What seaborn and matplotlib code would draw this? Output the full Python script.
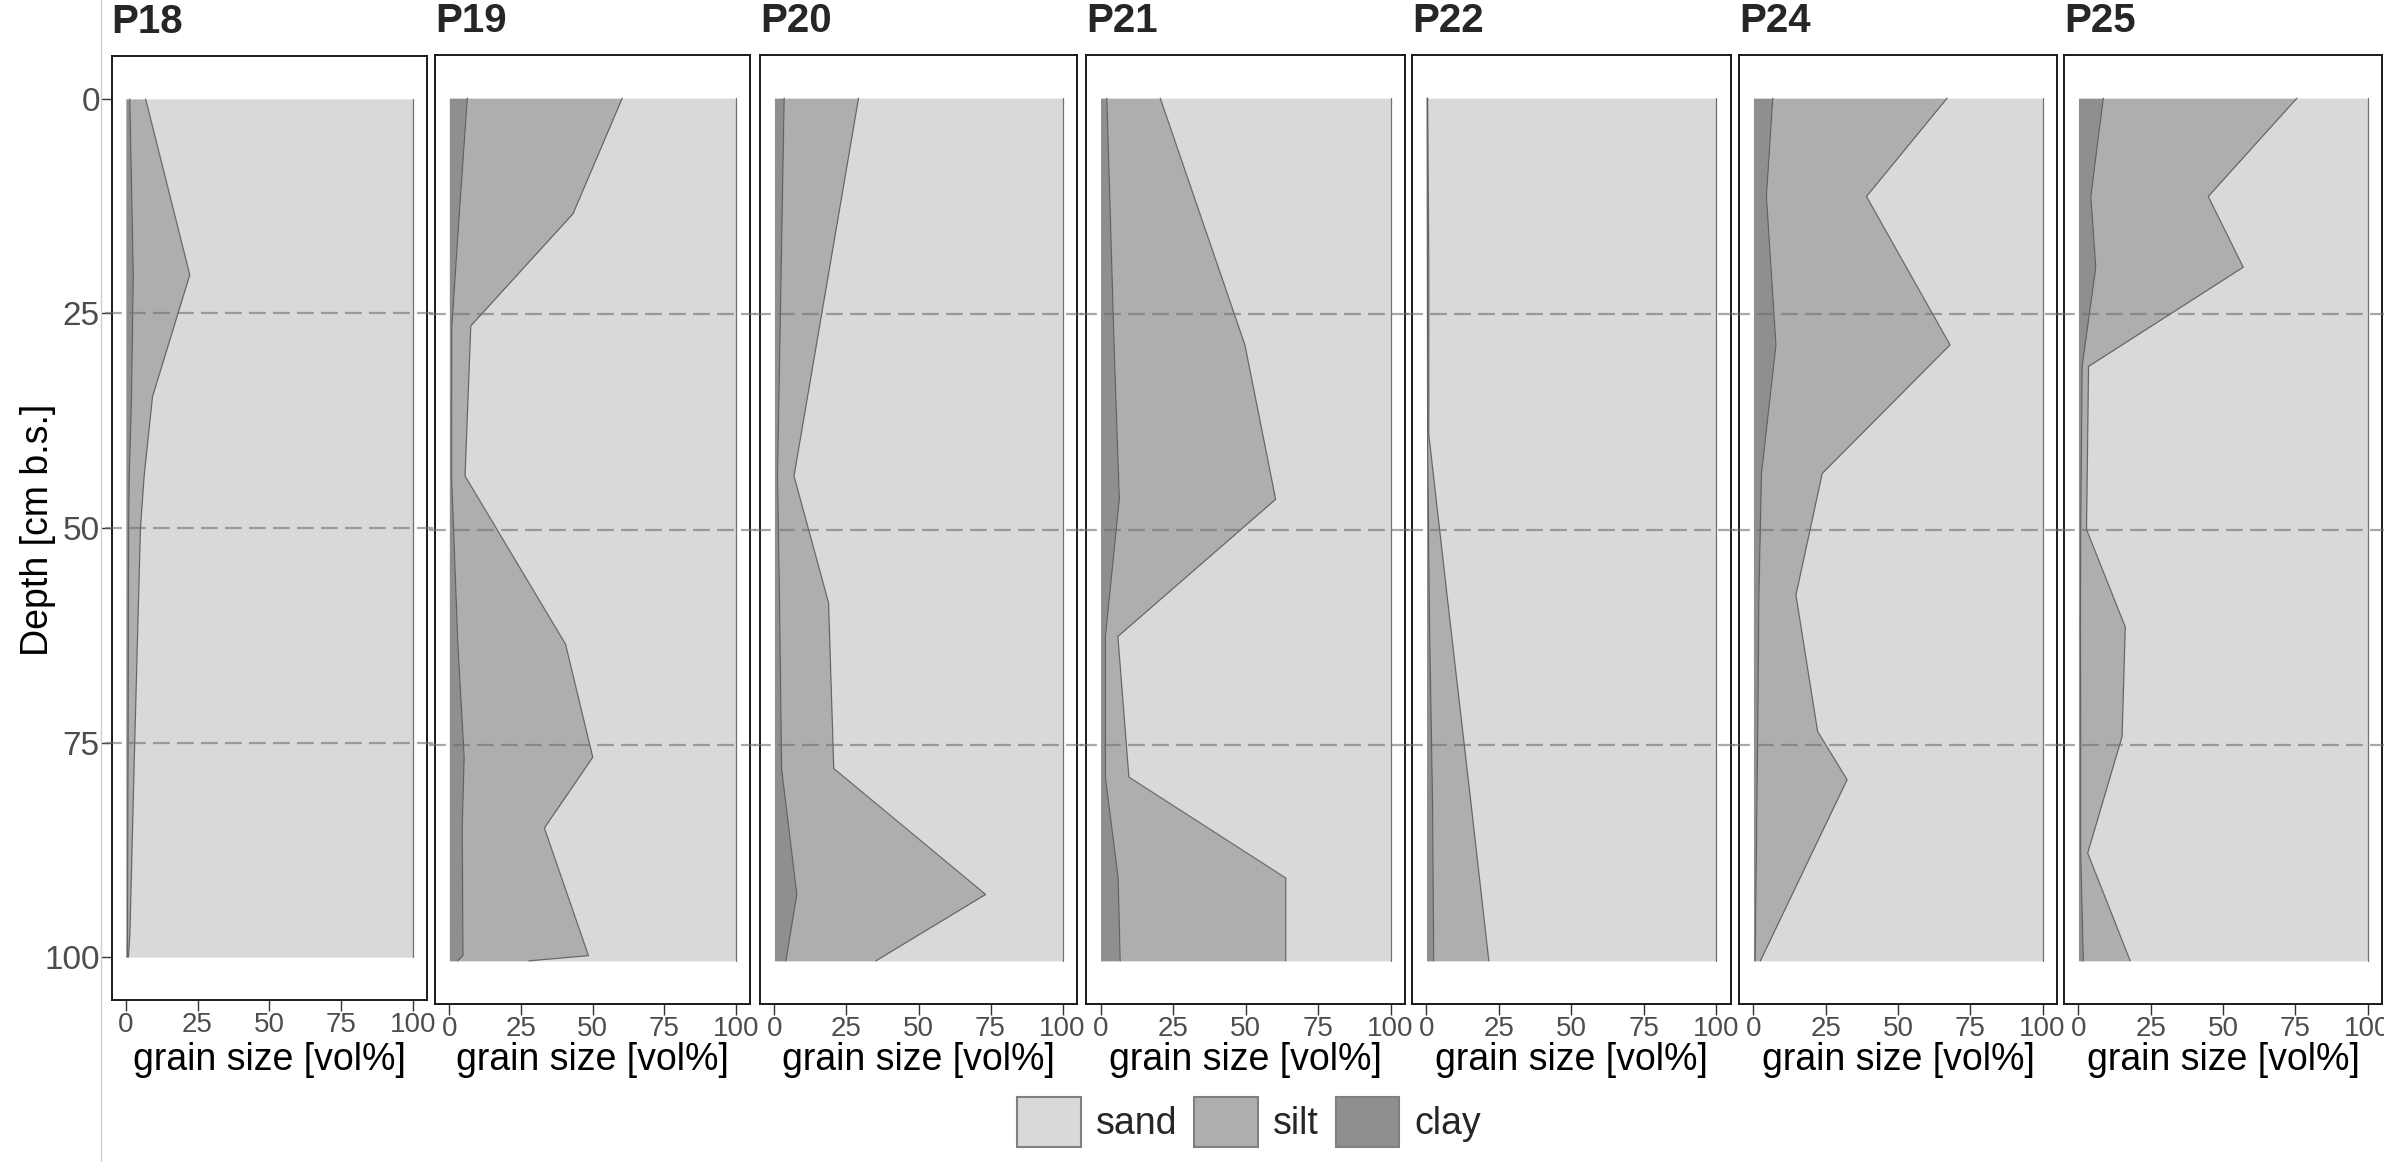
import matplotlib
matplotlib.use("Agg")
import matplotlib.pyplot as plt
from matplotlib.patches import Patch
from matplotlib.lines import Line2D
import seaborn as sns
import numpy as np

# ---------------- data ----------------
profiles = ["P18", "P19", "P20", "P21", "P22", "P24", "P25"]

P18_depth = [0, 20.5, 34.7, 43.9, 50, 75, 87, 97.5, 100]
P18_clay = [1.4, 2.6, 2.0, 1.2, 1.0, 0.8, 0.7, 0.6, 0.5]
P18_silt = [5.5, 19.7, 7.3, 5.2, 4.1, 2.3, 1.5, 0.8, 0.4]
P18_sand = [93.1, 77.7, 90.7, 93.6, 94.9, 96.9, 97.8, 98.6, 99.1]

P19_depth = [0, 13.4, 26.4, 43.8, 63.3, 76.4, 84.6, 99.4, 100]
P19_clay = [6.3, 3.5, 0.9, 0.8, 3.0, 5.2, 4.5, 4.8, 2.9]
P19_silt = [54.1, 39.7, 6.6, 4.7, 37.6, 44.9, 28.7, 43.8, 24.9]
P19_sand = [39.6, 56.8, 92.5, 94.5, 59.4, 49.9, 66.8, 51.4, 72.2]

P20_depth = [0, 43.8, 58.5, 77.7, 92.3, 100]
P20_clay = [3.4, 1.1, 1.8, 2.5, 7.8, 4.0]
P20_silt = [25.8, 5.7, 17.0, 18.1, 65.5, 31.2]
P20_sand = [70.8, 93.2, 81.2, 79.4, 26.7, 64.8]

P21_depth = [0, 28.6, 46.5, 62.4, 78.7, 90.4, 100]
P21_clay = [2.2, 4.7, 6.5, 1.7, 1.7, 6.1, 6.8]
P21_silt = [18.4, 45.1, 53.9, 4.3, 8.1, 57.8, 57.1]
P21_sand = [79.4, 50.2, 39.6, 94.0, 90.2, 36.1, 36.1]

P22_depth = [0, 19.4, 39, 60, 81.6, 100]
P22_clay = [0.2, 0.3, 0.4, 1.0, 2.1, 2.5]
P22_silt = [0.2, 0.5, 0.4, 6.9, 13.2, 19.0]
P22_sand = [99.6, 99.2, 99.2, 92.1, 84.7, 78.5]

P24_depth = [0, 11.4, 28.6, 43.5, 57.6, 73.4, 79, 100]
P24_clay = [6.7, 4.5, 7.8, 2.8, 1.9, 1.5, 1.3, 0.6]
P24_silt = [60.3, 34.6, 60.2, 21.0, 12.8, 20.7, 31.1, 1.8]
P24_sand = [33.0, 60.9, 32.0, 76.2, 85.3, 77.8, 67.6, 97.6]

P25_depth = [0, 11.4, 19.6, 31.1, 50, 61.3, 74, 87.5, 100]
P25_clay = [8.6, 4.3, 6.0, 1.3, 0.8, 0.7, 0.8, 0.8, 1.7]
P25_silt = [67.0, 40.6, 51.0, 2.2, 2.0, 15.5, 14.3, 2.4, 16.2]
P25_sand = [24.4, 55.1, 43.0, 96.5, 97.2, 83.8, 84.9, 96.8, 82.1]

fractions = ["sand", "silt", "clay"]
ref_depths = [25, 50, 75]
x_ticks = [0, 25, 50, 75, 100]
y_ticks = [0, 25, 50, 75, 100]

data = {
    "P18": (P18_depth, P18_clay, P18_silt, P18_sand),
    "P19": (P19_depth, P19_clay, P19_silt, P19_sand),
    "P20": (P20_depth, P20_clay, P20_silt, P20_sand),
    "P21": (P21_depth, P21_clay, P21_silt, P21_sand),
    "P22": (P22_depth, P22_clay, P22_silt, P22_sand),
    "P24": (P24_depth, P24_clay, P24_silt, P24_sand),
    "P25": (P25_depth, P25_clay, P25_silt, P25_sand),
}

# ---------------- style ----------------
sns.set_theme(style="white")
plt.rcParams["font.family"] = ["Liberation Sans", "DejaVu Sans"]

colors = {"sand": "#D9D9D9", "silt": "#AEAEAE", "clay": "#8F8F8F"}
edge = "#5A5A5A"

W, H = 2384, 1162
fig = plt.figure(figsize=(W / 100, H / 100), dpi=100)

lefts = [111.5, 435, 760, 1086, 1412, 1739, 2064]
widths = [315.5, 315, 317, 319, 319, 318, 318]
tops = [56, 55, 55, 55, 55, 55, 55]
bottoms = [1000, 1004, 1004, 1004, 1004, 1004, 1004]

for i, name in enumerate(profiles):
    l, w, t, b = lefts[i], widths[i], tops[i], bottoms[i]
    ax = fig.add_axes([l / W, 1 - b / H, w / W, (b - t) / H])
    depth, clay, silt, sand = (np.asarray(v, float) for v in data[name])
    c1 = clay
    c2 = clay + silt
    c3 = clay + silt + sand

    ax.fill_betweenx(depth, 0, c1, color=colors["clay"], lw=0, zorder=1)
    ax.fill_betweenx(depth, c1, c2, color=colors["silt"], lw=0, zorder=1)
    ax.fill_betweenx(depth, c2, c3, color=colors["sand"], lw=0, zorder=1)
    for cum in (c1, c2, c3):
        sns.lineplot(x=cum, y=depth, orient="y", sort=False, estimator=None,
                     color=edge, lw=0.9, alpha=0.85, ax=ax, zorder=2)

    for d in ref_depths:
        ax.axhline(d, xmin=-0.02, xmax=1.02, color="#6F6F6F", alpha=0.6,
                   lw=1.6, dashes=(7.6, 3.2), clip_on=False, zorder=3)

    ax.set_xlim(-5, 105)
    ax.set_ylim(105, -5)
    ax.set_xticks(x_ticks)
    ax.set_xticklabels([str(v) for v in x_ticks])
    ax.tick_params(axis="x", bottom=True, direction="out", length=7.9, width=1.0,
                   color="#333333", labelcolor="#4D4D4D", labelsize=20, pad=1)
    if i == 0:
        ax.set_yticks(y_ticks)
        ax.set_yticklabels([str(v) for v in y_ticks])
        ax.tick_params(axis="y", left=True, direction="out", length=7.9, width=1.0,
                       color="#333333", labelcolor="#4D4D4D", labelsize=24, pad=0.5)
    else:
        ax.set_yticks([])
    ax.grid(False)
    for s in ax.spines.values():
        s.set_visible(True)
        s.set_color("#1A1A1A")
        s.set_linewidth(1.4)

    ax.set_xlabel("grain size [vol%]", fontsize=27, color="black")
    ax.xaxis.set_label_coords(0.5, -(1060 - b) / (b - t))
    ax.xaxis.label.set_va("center")
    ax.set_ylabel("")
    ax.set_title(name, loc="left", fontsize=29, fontweight="bold", pad=16.5)

fig.text(38 / W, 1 - 530 / H, "Depth [cm b.s.]", rotation=90, ha="center",
         va="center", fontsize=27, color="black")

fig.add_artist(Line2D([100.5 / W, 100.5 / W], [0, 1], color="#CFCFCF", lw=1.0))

handles = [Patch(facecolor=colors[f], edgecolor="#808080", lw=1.5) for f in fractions]
fig.legend(handles, fractions, loc="center", bbox_to_anchor=(1249 / W, 1 - 1122 / H),
           ncol=3, frameon=False, fontsize=27, handlelength=1.7, handleheight=1.7,
           handletextpad=0.4, columnspacing=0.45, borderpad=0)

fig.savefig("out.png", dpi=100)
